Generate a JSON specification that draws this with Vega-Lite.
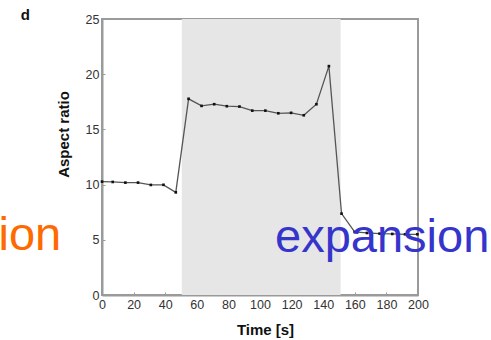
{
  "$schema": "https://vega.github.io/schema/vega-lite/v6.json",
  "width": 316,
  "height": 276,
  "autosize": "none",
  "padding": {"left": 102, "top": 19, "right": 73, "bottom": 45},
  "background": "white",
  "config": {
    "view": {"stroke": "#9a9a9a", "strokeWidth": 2},
    "axis": {
      "grid": false,
      "domainColor": "#9a9a9a",
      "domainWidth": 2,
      "tickColor": "#9a9a9a",
      "tickSize": -3,
      "tickWidth": 1,
      "labelFont": "Liberation Sans",
      "labelFontSize": 12.5,
      "labelColor": "#333333",
      "titleFont": "Liberation Sans",
      "titleFontSize": 15,
      "titleFontWeight": "bold",
      "titleColor": "#111111"
    }
  },
  "datasets": {
    "series": [
      {"time": 0, "ratio": 10.27},
      {"time": 6.8, "ratio": 10.24},
      {"time": 14.8, "ratio": 10.18},
      {"time": 22.8, "ratio": 10.18},
      {"time": 30.9, "ratio": 9.97},
      {"time": 38.9, "ratio": 9.98},
      {"time": 46.7, "ratio": 9.3},
      {"time": 54.8, "ratio": 17.77},
      {"time": 63, "ratio": 17.13},
      {"time": 71, "ratio": 17.28},
      {"time": 79, "ratio": 17.1},
      {"time": 87, "ratio": 17.07},
      {"time": 95.1, "ratio": 16.7},
      {"time": 103.4, "ratio": 16.7},
      {"time": 111.6, "ratio": 16.46},
      {"time": 119.7, "ratio": 16.5},
      {"time": 127.7, "ratio": 16.28},
      {"time": 135.7, "ratio": 17.28},
      {"time": 143.6, "ratio": 20.73},
      {"time": 151.6, "ratio": 7.37},
      {"time": 159.9, "ratio": 5.71},
      {"time": 167.7, "ratio": 5.62},
      {"time": 175.7, "ratio": 5.56},
      {"time": 183.7, "ratio": 5.53},
      {"time": 191.8, "ratio": 5.5},
      {"time": 199.6, "ratio": 5.5}
    ],
    "shade": [{"time": 50.5, "time_end": 151, "ratio": 0, "ratio_end": 25}],
    "words": [
      {"time": -65.5, "ratio": 4.1, "label": "ion", "colour": "#ff6a00"},
      {"time": 109.5, "ratio": 3.86, "label": "expansion", "colour": "#3535cc"}
    ],
    "panel": [{"time": -51.5, "ratio": 24.9, "label": "d"}]
  },
  "encoding": {
    "x": {"field": "time", "type": "quantitative", "scale": {"domain": [0, 200], "nice": false},
          "axis": {"values": [0,20,40,60,80,100,120,140,160,180,200], "labelOverlap": false, "labelFlush": false, "title": "Time [s]", "labelPadding": 6, "titleBaseline": "alphabetic", "titleX": 163, "titleY": 39}},
    "y": {"field": "ratio", "type": "quantitative", "scale": {"domain": [0, 25], "nice": false},
          "axis": {"values": [0,5,10,15,20,25], "labelOverlap": false, "labelFlush": false, "title": "Aspect ratio", "labelPadding": 6, "titleAngle": -90, "titleBaseline": "alphabetic", "titleX": -34, "titleY": 115}}
  },
  "layer": [
    {
      "data": {"name": "shade"},
      "mark": {"type": "rect", "color": "#e6e6e6"},
      "encoding": {
        "x2": {"field": "time_end"},
        "y2": {"field": "ratio_end"}
      }
    },
    {
      "data": {"name": "series"},
      "mark": {"type": "line", "color": "#555555", "strokeWidth": 1.3}
    },
    {
      "data": {"name": "series"},
      "mark": {"type": "point", "shape": "square", "filled": true, "color": "#111111", "size": 7, "opacity": 1}
    },
    {
      "data": {"name": "words"},
      "mark": {"type": "text", "align": "left", "baseline": "alphabetic", "font": "Liberation Sans", "fontSize": 47},
      "encoding": {
        "text": {"field": "label"},
        "color": {"field": "colour", "type": "nominal", "scale": null}
      }
    },
    {
      "data": {"name": "panel"},
      "mark": {"type": "text", "align": "left", "baseline": "alphabetic", "font": "Liberation Sans", "fontSize": 15, "fontWeight": "bold", "color": "#111111"},
      "encoding": {
        "text": {"field": "label"}
      }
    }
  ]
}
